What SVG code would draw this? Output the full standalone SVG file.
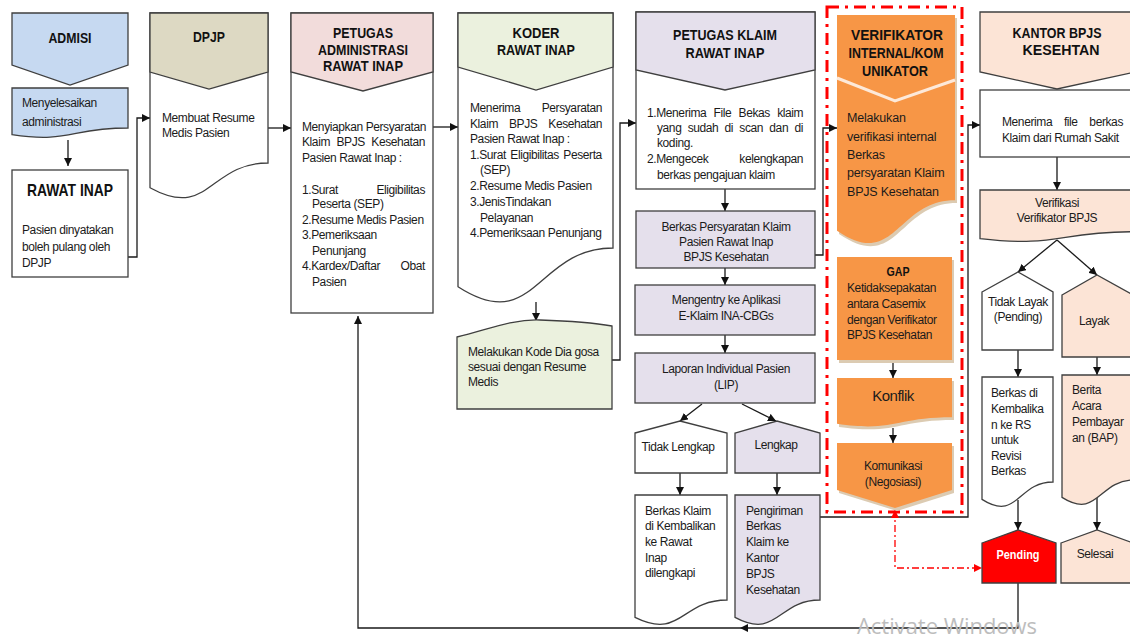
<svg xmlns="http://www.w3.org/2000/svg" width="1130" height="638" viewBox="0 0 1130 638">
<style>
.s{stroke:#3f3f3f;stroke-width:1.3;stroke-linejoin:miter}
.w{fill:#fff}
.t{font-family:"Liberation Sans",Arial,sans-serif;font-size:12px;fill:#1b1b1b;letter-spacing:-0.4px}
.o{font-size:12.5px;letter-spacing:-0.2px}
.e{text-anchor:end}
.h{font-family:"Liberation Sans",Arial,sans-serif;font-weight:bold;font-size:14px;fill:#111;text-anchor:middle}
.c{text-anchor:middle}
.ln{fill:none;stroke:#1a1a1a;stroke-width:1.3}
.red{fill:none;stroke:#ff0000;stroke-width:1.3;stroke-dasharray:7 3 2 3}
.blue{fill:#c6d9f1}.tan{fill:#ddd9c3}.pink{fill:#f2dcdb}.grn{fill:#ebf1de}.lav{fill:#e5e0ec}.org{fill:#f79646}.pch{fill:#fce4d6}.shd{fill:#dccbb2}
</style>
<defs>
<marker id="ah" viewBox="0 0 10 10" refX="10" refY="5" markerWidth="8" markerHeight="8" markerUnits="userSpaceOnUse" orient="auto"><path d="M0,0 L10,5 L0,10 Z" fill="#111"/></marker>
<marker id="rh" viewBox="0 0 10 10" refX="10" refY="5" markerWidth="8" markerHeight="8" markerUnits="userSpaceOnUse" orient="auto-start-reverse"><path d="M0,0 L10,5 L0,10 Z" fill="#ff0000"/></marker>
</defs>

<g id="connectors">
<path class="ln" d="M68,140 V166" marker-end="url(#ah)"/>
<path class="ln" d="M128,257 H137 V118 H150" marker-end="url(#ah)"/>
<path class="ln" d="M268,128 H291" marker-end="url(#ah)"/>
<path class="ln" d="M433,127 H458" marker-end="url(#ah)"/>
<path class="ln" d="M536,302 V321" marker-end="url(#ah)"/>
<path class="ln" d="M612,360 H620 V123 H636" marker-end="url(#ah)"/>
<path class="ln" d="M725,189 V211" marker-end="url(#ah)"/>
<path class="ln" d="M725,268 V285" marker-end="url(#ah)"/>
<path class="ln" d="M725,335 V353" marker-end="url(#ah)"/>
<path class="ln" d="M702,404 L680,421" marker-end="url(#ah)"/>
<path class="ln" d="M742,404 L776,421" marker-end="url(#ah)"/>
<path class="ln" d="M680,473 V495" marker-end="url(#ah)"/>
<path class="ln" d="M777,473 V495" marker-end="url(#ah)"/>
<path class="ln" d="M815,255 H823 V128 H837" marker-end="url(#ah)"/>
<path class="ln" d="M820,517 H968 V125 H980" marker-end="url(#ah)"/>
<path class="ln" d="M893,362 V378" marker-end="url(#ah)"/>
<path class="ln" d="M893,428 V443" marker-end="url(#ah)"/>
<path class="ln" d="M1057,157 V190" marker-end="url(#ah)"/>
<path class="ln" d="M1057,240 L1018,272" marker-end="url(#ah)"/>
<path class="ln" d="M1057,240 L1097,275" marker-end="url(#ah)"/>
<path class="ln" d="M1018,350 V377" marker-end="url(#ah)"/>
<path class="ln" d="M1097,357 V375" marker-end="url(#ah)"/>
<path class="ln" d="M1018,500 V530" marker-end="url(#ah)"/>
<path class="ln" d="M1097,496 V530" marker-end="url(#ah)"/>
<path class="ln" d="M1018,583 V628 H740" marker-end="url(#ah)"/>
<path class="ln" d="M740,628 H358 V316" marker-end="url(#ah)"/>
<path class="red" d="M895,510 V568 H982" marker-start="url(#rh)" marker-end="url(#rh)"/>
</g>

<g id="admisi">
<polygon class="s blue" points="12,13 128,13 128,65 70,85 12,65"/>
<text class="h" x="70" y="43" textLength="43" lengthAdjust="spacingAndGlyphs">ADMISI</text>
</g>
<g id="menyelesaikan">
<path class="s blue" d="M12,88 H128 V128 C70,128 70,143.4 12,134.7 Z"/>
<text class="t" x="22" y="107">Menyelesaikan</text>
<text class="t" x="22" y="126">administrasi</text>
</g>
<g id="rawat-inap">
<rect class="s w" x="12" y="170" width="116" height="107"/>
<text class="h" x="70" y="196" style="font-size:17px" textLength="86" lengthAdjust="spacingAndGlyphs">RAWAT INAP</text>
<text class="t" x="22" y="234">Pasien dinyatakan</text>
<text class="t" x="22" y="251">boleh pulang oleh</text>
<text class="t" x="22" y="267">DPJP</text>
</g>

<g id="dpjp">
<path class="s w" d="M150,13 H268 V163 C209,163 209,220.2 150,187.7 Z"/>
<polygon class="s tan" points="150,13 268,13 268,72 209,89 150,72"/>
<text class="h" x="209" y="42" textLength="32" lengthAdjust="spacingAndGlyphs">DPJP</text>
<text class="t" x="162" y="122">Membuat Resume</text>
<text class="t" x="162" y="137">Medis Pasien</text>
</g>

<g id="petugas-admin">
<rect class="s w" x="291" y="13" width="142" height="300"/>
<polygon class="s pink" points="291,13 433,13 433,72 363,91 291,72"/>
<text class="h" x="363" y="38" textLength="60" lengthAdjust="spacingAndGlyphs">PETUGAS</text>
<text class="h" x="363" y="55" textLength="90" lengthAdjust="spacingAndGlyphs">ADMINISTRASI</text>
<text class="h" x="363" y="71" textLength="80" lengthAdjust="spacingAndGlyphs">RAWAT INAP</text>
<text class="t" x="302" y="131">Menyiapkan Persyaratan</text>
<text class="t" x="302" y="146" style="word-spacing:3.5px">Klaim BPJS Kesehatan</text>
<text class="t" x="302" y="162">Pasien Rawat Inap :</text>
<text class="t" x="302" y="194">1.Surat</text>
<text class="t e" x="425" y="194">Eligibilitas</text>
<text class="t" x="312" y="208">Peserta (SEP)</text>
<text class="t" x="302" y="224">2.Resume Medis Pasien</text>
<text class="t" x="302" y="239">3.Pemeriksaan</text>
<text class="t" x="312" y="255">Penunjang</text>
<text class="t" x="302" y="270">4.Kardex/Daftar</text>
<text class="t e" x="425" y="270">Obat</text>
<text class="t" x="312" y="286">Pasien</text>
</g>

<g id="koder">
<path class="s w" d="M458,13 H613 V248 C535.5,248 535.5,336.6 458,286.7 Z"/>
<polygon class="s grn" points="458,13 613,13 613,67 536,90 458,67"/>
<text class="h" x="536" y="38" textLength="47" lengthAdjust="spacingAndGlyphs">KODER</text>
<text class="h" x="536" y="55" textLength="78" lengthAdjust="spacingAndGlyphs">RAWAT INAP</text>
<text class="t" x="470" y="112">Menerima</text>
<text class="t e" x="602" y="112">Persyaratan</text>
<text class="t" x="470" y="128" style="word-spacing:8px">Klaim BPJS Kesehatan</text>
<text class="t" x="470" y="143">Pasien Rawat Inap :</text>
<text class="t" x="470" y="159" style="word-spacing:1.5px">1.Surat Eligibilitas Peserta</text>
<text class="t" x="480" y="174">(SEP)</text>
<text class="t" x="470" y="190">2.Resume Medis Pasien</text>
<text class="t" x="470" y="206">3.JenisTindakan</text>
<text class="t" x="480" y="222">Pelayanan</text>
<text class="t" x="470" y="237">4.Pemeriksaan Penunjang</text>
</g>

<g id="kode-diagnosa">
<path class="s grn" d="M457,337 C490,329 512,319 540,320 C570,321 595,323 612,326 V409 H457 Z"/>
<text class="t" x="468" y="356">Melakukan Kode Dia gosa</text>
<text class="t" x="468" y="371">sesuai dengan Resume</text>
<text class="t" x="468" y="386">Medis</text>
</g>

<g id="petugas-klaim">
<rect class="s w" x="636" y="12" width="179" height="177"/>
<polygon class="s lav" points="636,12 815,12 815,70 725,90 636,70"/>
<text class="h" x="725" y="40" textLength="104" lengthAdjust="spacingAndGlyphs">PETUGAS KLAIM</text>
<text class="h" x="725" y="58" textLength="79" lengthAdjust="spacingAndGlyphs">RAWAT INAP</text>
<text class="t" x="647" y="117" style="word-spacing:4.3px">1.Menerima File Bekas klaim</text>
<text class="t" x="657" y="132" style="word-spacing:3.3px">yang sudah di scan dan di</text>
<text class="t" x="657" y="147">koding.</text>
<text class="t" x="647" y="163">2.Mengecek</text>
<text class="t e" x="803" y="163">kelengkapan</text>
<text class="t" x="657" y="179">berkas pengajuan klaim</text>
</g>
<g id="berkas-persyaratan">
<rect class="s lav" x="636" y="211" width="179" height="57"/>
<text class="t c" x="726" y="231">Berkas Persyaratan Klaim</text>
<text class="t c" x="726" y="246">Pasien Rawat Inap</text>
<text class="t c" x="726" y="261">BPJS Kesehatan</text>
</g>
<g id="mengentry">
<rect class="s lav" x="635" y="285" width="180" height="50"/>
<text class="t c" x="726" y="304">Mengentry ke Aplikasi</text>
<text class="t c" x="726" y="320">E-Klaim INA-CBGs</text>
</g>
<g id="lip">
<rect class="s lav" x="635" y="353" width="180" height="50"/>
<text class="t c" x="726" y="373">Laporan Individual Pasien</text>
<text class="t c" x="726" y="389">(LIP)</text>
</g>
<g id="tidak-lengkap">
<path class="s w" d="M635,433 L680,421 L727,433 V473 H635 Z"/>
<text class="t c" x="678" y="451">Tidak Lengkap</text>
</g>
<g id="lengkap">
<path class="s lav" d="M735,433 L777,421 L820,433 V473 H735 Z"/>
<text class="t c" x="776" y="449">Lengkap</text>
</g>
<g id="berkas-dikembalikan">
<path class="s w" d="M635,495 H727 V600 C681,600 681,640.1 635,617.4 Z"/>
<text class="t" x="645" y="515">Berkas Klaim</text>
<text class="t" x="645" y="530">di Kembalikan</text>
<text class="t" x="645" y="546">ke Rawat</text>
<text class="t" x="645" y="562">Inap</text>
<text class="t" x="645" y="577">dilengkapi</text>
</g>
<g id="pengiriman">
<path class="s lav" d="M735,495 H820 V600 C777.5,600 777.5,640.1 735,617.4 Z"/>
<text class="t" x="746" y="515">Pengiriman</text>
<text class="t" x="746" y="530">Berkas</text>
<text class="t" x="746" y="546">Klaim ke</text>
<text class="t" x="746" y="562">Kantor</text>
<text class="t" x="746" y="578">BPJS</text>
<text class="t" x="746" y="594">Kesehatan</text>
</g>

<g id="verifikator-border">
<rect x="827" y="7" width="135" height="505" fill="none" stroke="#ff0000" stroke-width="3" stroke-dasharray="12 6 3 6"/>
</g>
<g id="verifikator">
<path class="shd" d="M839,18 H957 V203 C898,203 898,274 839,234 Z"/>
<path class="org" d="M837,15 H955 V200.3 C896,200.3 896,270.9 837,230.8 Z"/>
<polyline points="837,78 895,101 955,80" fill="none" stroke="#fde9d9" stroke-width="3"/>
<text class="h" x="897" y="40" textLength="92" lengthAdjust="spacingAndGlyphs">VERIFIKATOR</text>
<text class="h" x="896" y="58" textLength="95" lengthAdjust="spacingAndGlyphs">INTERNAL/KOM</text>
<text class="h" x="895" y="76" textLength="66" lengthAdjust="spacingAndGlyphs">UNIKATOR</text>
<text class="t o" x="847" y="122">Melakukan</text>
<text class="t o" x="847" y="141">verifikasi internal</text>
<text class="t o" x="847" y="159">Berkas</text>
<text class="t o" x="847" y="177">persyaratan Klaim</text>
<text class="t o" x="847" y="196">BPJS Kesehatan</text>
</g>
<g id="gap">
<rect class="shd" x="839" y="260" width="115" height="103"/>
<rect class="org" x="837" y="257" width="115" height="103"/>
<text class="h" x="898" y="276" style="font-size:13px" textLength="23" lengthAdjust="spacingAndGlyphs">GAP</text>
<text class="t" x="847" y="292">Ketidaksepakatan</text>
<text class="t" x="847" y="308">antara Casemix</text>
<text class="t" x="847" y="324">dengan Verifikator</text>
<text class="t" x="847" y="339">BPJS Kesehatan</text>
</g>
<g id="konflik">
<path class="shd" d="M839,381 H954 V420 C896.5,420 896.5,435 839,427 Z"/>
<path class="org" d="M837,378 H952 V417.3 C894.5,417.3 894.5,432.3 837,423.8 Z"/>
<text class="t c" x="893" y="401" style="font-size:15px;letter-spacing:-0.5px">Konflik</text>
</g>
<g id="komunikasi">
<path class="shd" d="M839,446 H954 V493 L897,511 L839,493 Z"/>
<path class="org" d="M837,443 H952 V490 L895,508 L837,490 Z"/>
<text class="t c" x="893" y="470">Komunikasi</text>
<text class="t c" x="893" y="486">(Negosiasi)</text>
</g>

<g id="kantor-bpjs">
<polygon class="s pch" points="980,12 1135,12 1135,72 1057,89 980,72"/>
<text class="h" x="1057" y="38" textLength="89" lengthAdjust="spacingAndGlyphs">KANTOR BPJS</text>
<text class="h" x="1061" y="55" textLength="77" lengthAdjust="spacingAndGlyphs">KESEHTAN</text>
</g>
<g id="menerima-file">
<rect class="s w" x="980" y="90" width="155" height="67"/>
<text class="t" x="1002" y="126" style="word-spacing:8.8px">Menerima file berkas</text>
<text class="t" x="1002" y="142">Klaim dari Rumah Sakit</text>
</g>
<g id="verifikasi">
<path class="s pch" d="M980,190 H1135 V231.7 C1057.5,231.7 1057.5,247.6 980,238.6 Z"/>
<text class="t c" x="1057" y="207">Verifikasi</text>
<text class="t c" x="1057" y="222">Verifikator BPJS</text>
</g>
<g id="tidak-layak">
<path class="s w" d="M982,292 L1018,272 L1053,292 V350 H982 Z"/>
<text class="t c" x="1018" y="306">Tidak Layak</text>
<text class="t c" x="1018" y="321">(Pending)</text>
</g>
<g id="layak">
<path class="s pch" d="M1062,295 L1097,275 L1133,295 V357 H1062 Z"/>
<text class="t c" x="1094" y="325">Layak</text>
</g>
<g id="berkas-revisi">
<path class="s w" d="M982,377 H1053 V482 C1017.5,482 1017.5,522.1 982,499.4 Z"/>
<text class="t" x="991" y="397">Berkas di</text>
<text class="t" x="991" y="413">Kembalika</text>
<text class="t" x="991" y="429">n ke RS</text>
<text class="t" x="991" y="444">untuk</text>
<text class="t" x="991" y="460">Revisi</text>
<text class="t" x="991" y="475">Berkas</text>
</g>
<g id="berita-acara">
<path class="s pch" d="M1062,375 H1134 V480 C1098,480 1098,520.1 1062,497.4 Z"/>
<text class="t" x="1072" y="394">Berita</text>
<text class="t" x="1072" y="410">Acara</text>
<text class="t" x="1072" y="426">Pembayar</text>
<text class="t" x="1072" y="442">an (BAP)</text>
</g>
<g id="pending">
<path class="s" fill="#ff0000" d="M982,543 L1018,530 L1056,543 V583 H982 Z"/>
<text class="h" x="1018" y="559" style="font-size:13px;fill:#fff" textLength="43" lengthAdjust="spacingAndGlyphs">Pending</text>
</g>
<g id="selesai">
<path class="s pch" d="M1061,543 L1097,530 L1133,543 V583 H1061 Z"/>
<text class="t c" x="1095" y="558">Selesai</text>
</g>

<text x="857" y="634" font-family="'Open Sans','Noto Sans',sans-serif" font-size="22" fill="#bdbdbd" textLength="180" lengthAdjust="spacingAndGlyphs">Activate Windows</text>
</svg>
